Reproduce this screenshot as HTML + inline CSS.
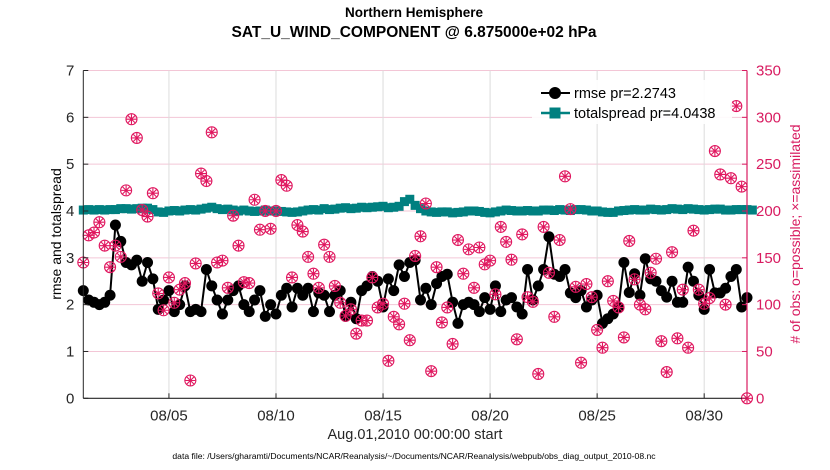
<!DOCTYPE html>
<html><head><meta charset="utf-8"><style>
body{margin:0;background:#fff;}
svg{display:block;font-family:"Liberation Sans",Arial,sans-serif;}
</style></head><body>
<svg id="chart" width="830" height="470" viewBox="0 0 830 470" xmlns="http://www.w3.org/2000/svg">
<text x="414" y="17" text-anchor="middle" font-size="13.5" font-weight="bold">Northern Hemisphere</text>
<text x="414" y="37" text-anchor="middle" font-size="15.5" font-weight="bold">SAT_U_WIND_COMPONENT @ 6.875000e+02 hPa</text>
<g id="grid"></g>
<g id="series"></g>
<g id="axes"></g>
<text transform="translate(61,234) rotate(-90)" text-anchor="middle" font-size="14">rmse and totalspread</text>
<text transform="translate(800,234) rotate(-90)" text-anchor="middle" font-size="14" fill="#d81b60">&#35; of obs: o=possible; &#215;=assimilated</text>
<text x="415" y="439" text-anchor="middle" font-size="14.5" fill="#262626">Aug.01,2010 00:00:00 start</text>
<text x="414" y="459" text-anchor="middle" font-size="8.6" fill="#000">data file: /Users/gharamti/Documents/NCAR/Reanalysis/~/Documents/NCAR/Reanalysis/webpub/obs_diag_output_2010-08.nc</text>
<g>
<rect x="532" y="80" width="200" height="44" fill="#fff" opacity="0.9"/>
<line x1="541" y1="93" x2="570" y2="93" stroke="#000" stroke-width="2"/>
<circle cx="555" cy="93" r="6" fill="#000"/>
<text x="574" y="98" font-size="14.5">rmse pr=2.2743</text>
<line x1="541" y1="113" x2="570" y2="113" stroke="#008080" stroke-width="2.5"/>
<rect x="549.5" y="107.5" width="11" height="11" fill="#008080"/>
<text x="574" y="118" font-size="14.5">totalspread pr=4.0438</text>
</g>
</svg>
<script>
const xTickLabels = ["08/05","08/10","08/15","08/20","08/25","08/30"];
const xTickDays = [4,9,14,19,24,29];
const yLeftTicks = [0,1,2,3,4,5,6,7];
const yRightTicks = [0,50,100,150,200,250,300,350];
const rmse = [2.3,2.1,2.05,2.0,2.05,2.2,3.7,3.35,2.9,2.85,2.95,2.5,2.9,2.55,1.9,2.1,2.3,1.85,2.0,2.4,1.85,1.9,1.85,2.75,2.4,2.1,1.8,2.1,2.3,2.4,2.0,
1.85,2.1,2.3,1.75,2.0,1.8,2.2,2.35,1.95,2.35,2.2,2.35,1.85,2.25,2.2,1.85,2.2,2.3,1.75,2.05,1.7,2.3,2.4,2.6,2.5,1.95,2.55,2.3,2.85,2.6,2.9,2.95,
2.1,2.35,2.0,2.45,2.6,2.65,2.05,1.6,2.0,2.05,2.0,1.85,2.15,1.9,2.4,1.85,2.1,2.15,1.95,1.8,2.75,2.1,2.4,2.75,3.45,2.65,2.6,2.75,2.25,2.15,2.3,1.95,
2.1,2.2,1.6,1.7,1.8,1.95,2.9,2.26,2.66,2.2,2.98,2.55,2.5,2.3,2.16,2.5,2.05,2.05,2.8,2.5,2.2,1.9,2.75,2.25,2.25,2.35,2.6,2.75,1.95,2.15];
const totalspread = [4.02,4.03,4.02,4.03,4.02,4.03,4.03,4.05,4.05,4.04,4.05,4.06,4.06,4.03,3.98,3.97,4.0,4.01,4.0,4.02,4.03,4.02,4.04,4.06,4.08,4.05,4.03,4.04,4.02,4.0,4.02,
4.0,3.99,4.0,4.02,4.0,4.0,3.99,3.98,3.97,3.98,4.0,4.02,4.03,4.02,4.05,4.03,4.04,4.06,4.07,4.05,4.06,4.08,4.07,4.08,4.09,4.1,4.07,4.08,4.1,4.2,4.25,4.12,
4.05,4.0,3.98,3.97,3.98,3.98,3.96,3.97,3.98,4.0,4.0,3.99,3.97,3.96,3.98,4.0,4.02,4.01,4.0,4.0,4.01,4.0,4.0,4.02,4.02,4.01,4.03,4.02,4.01,4.03,4.03,4.02,
4.0,4.0,3.98,3.97,3.97,4.0,4.01,4.02,4.03,4.02,4.02,4.04,4.03,4.02,4.03,4.05,4.04,4.03,4.05,4.04,4.03,4.02,4.03,4.04,4.04,4.02,4.02,4.03,4.03,4.03,4.02];
const obsPossible = [145,174,177,188,163,140,163,151,222,298,278,201,194,219,112,94,129,102,116,123,19,144,240,232,284,145,147,118,195,163,124,
123,212,180,200,181,200,233,227,129,185,178,151,133,118,164,151,120,102,88,95,69,83,83,129,97,101,40,87,79,101,62,152,
173,208,29,140,81,97,58,169,133,159,118,161,143,147,111,183,167,148,63,175,108,103,26,183,134,87,169,237,202,119,38,122,
108,73,54,125,104,97,65,168,127,100,95,134,149,61,28,156,64,116,54,179,116,101,107,264,239,100,235,312,226,0];
const obsAssimilated = [145,174,177,188,163,140,163,151,222,298,278,201,194,219,112,94,129,102,116,123,19,144,240,232,284,145,147,118,195,163,124,
123,212,180,200,181,200,233,227,129,185,178,151,133,118,164,151,120,102,88,95,69,83,83,129,97,101,40,87,79,101,62,152,
173,208,29,140,81,97,58,169,133,159,118,161,143,147,111,183,167,148,63,175,108,103,26,183,134,87,169,237,202,119,38,122,
108,73,54,125,104,97,65,168,127,100,95,134,149,61,28,156,64,116,54,179,116,101,107,264,239,100,235,312,226,0];

const X0=83.3, X1=747, Y0=398.3, Y1=70.5, DAYS=31, STEP=0.25;
const NS="http://www.w3.org/2000/svg";
function xS(d){return X0+(d/DAYS)*(X1-X0);}
function yL(v){return Y0-(v/7)*(Y0-Y1);}
function yR(v){return Y0-(v/350)*(Y0-Y1);}
function mk(tag,attrs,parent){const e=document.createElementNS(NS,tag);for(const k in attrs)e.setAttribute(k,attrs[k]);parent.appendChild(e);return e;}
const grid=document.getElementById('grid'),series=document.getElementById('series'),axes=document.getElementById('axes');

yLeftTicks.forEach(v=>{
  if(v===0)return;
  const l=mk('line',{x1:X0,x2:X1,y1:yL(v),y2:yL(v),stroke:'#f3c6d6','stroke-width':1},grid);
  
  
});
xTickDays.forEach(d=>{
  const l=mk('line',{x1:xS(d),x2:xS(d),y1:Y1,y2:Y0,stroke:'#dcdcdc','stroke-width':1},grid);
  
  
});

let sp=totalspread.map((v,i)=>xS(i*STEP)+','+yL(v)).join(' ');
const spl=mk('polyline',{points:sp,fill:'none',stroke:'#008080','stroke-width':2},series);


totalspread.forEach((v,i)=>{
  const r=mk('rect',{x:xS(i*STEP)-4.5,y:yL(v)-4.5,width:9,height:9,fill:'#008080'},series);
  
  
});
let rp=rmse.map((v,i)=>xS(i*STEP)+','+yL(v)).join(' ');
const rl=mk('polyline',{points:rp,fill:'none',stroke:'#000','stroke-width':2},series);


rmse.forEach((v,i)=>{
  const c=mk('circle',{cx:xS(i*STEP),cy:yL(v),r:5.5,fill:'#000'},series);
  
  
});
const MAG='#e0175f';
obsPossible.forEach((v,i)=>{
  const c=mk('circle',{cx:xS(i*STEP),cy:yR(v),r:5.5,fill:'none',stroke:MAG,'stroke-width':1.1},series);
  
  
});
obsAssimilated.forEach((v,i)=>{
  const cx=xS(i*STEP),cy=yR(v),r=5,d=r*0.707;
  const p=mk('path',{d:`M${cx} ${cy-r}V${cy+r}M${cx-r} ${cy}H${cx+r}M${cx-d} ${cy-d}L${cx+d} ${cy+d}M${cx-d} ${cy+d}L${cx+d} ${cy-d}`,stroke:MAG,'stroke-width':1.1,fill:'none'},series);
  
  
});

const la=mk('line',{x1:X0,x2:X0,y1:Y1,y2:Y0,stroke:'#262626','stroke-width':1},axes);


const ba=mk('line',{x1:X0,x2:X1,y1:Y0,y2:Y0,stroke:'#262626','stroke-width':1.2},axes);


const ra=mk('line',{x1:X1,x2:X1,y1:Y1,y2:Y0,stroke:'#d81b60','stroke-width':1.2},axes);



yLeftTicks.forEach(v=>{
  mk('line',{x1:X0,x2:X0+5,y1:yL(v),y2:yL(v),stroke:'#262626'},axes);
  const t=mk('text',{x:X0-9,y:yL(v)+5,'text-anchor':'end','font-size':15,fill:'#262626'},axes);
  t.textContent=v;
  
  
});
yRightTicks.forEach(v=>{
  mk('line',{x1:X1-5,x2:X1,y1:yR(v),y2:yR(v),stroke:'#d81b60'},axes);
  const t=mk('text',{x:X1+9,y:yR(v)+5,'font-size':15,fill:'#d81b60'},axes);
  t.textContent=v;
  
  
});
xTickDays.forEach((d,i)=>{
  mk('line',{x1:xS(d),x2:xS(d),y1:Y0,y2:Y0-5,stroke:'#262626'},axes);
  const t=mk('text',{x:xS(d),y:Y0+22,'text-anchor':'middle','font-size':15,fill:'#262626'},axes);
  t.textContent=xTickLabels[i];
  
  
});
</script>
</body></html>
